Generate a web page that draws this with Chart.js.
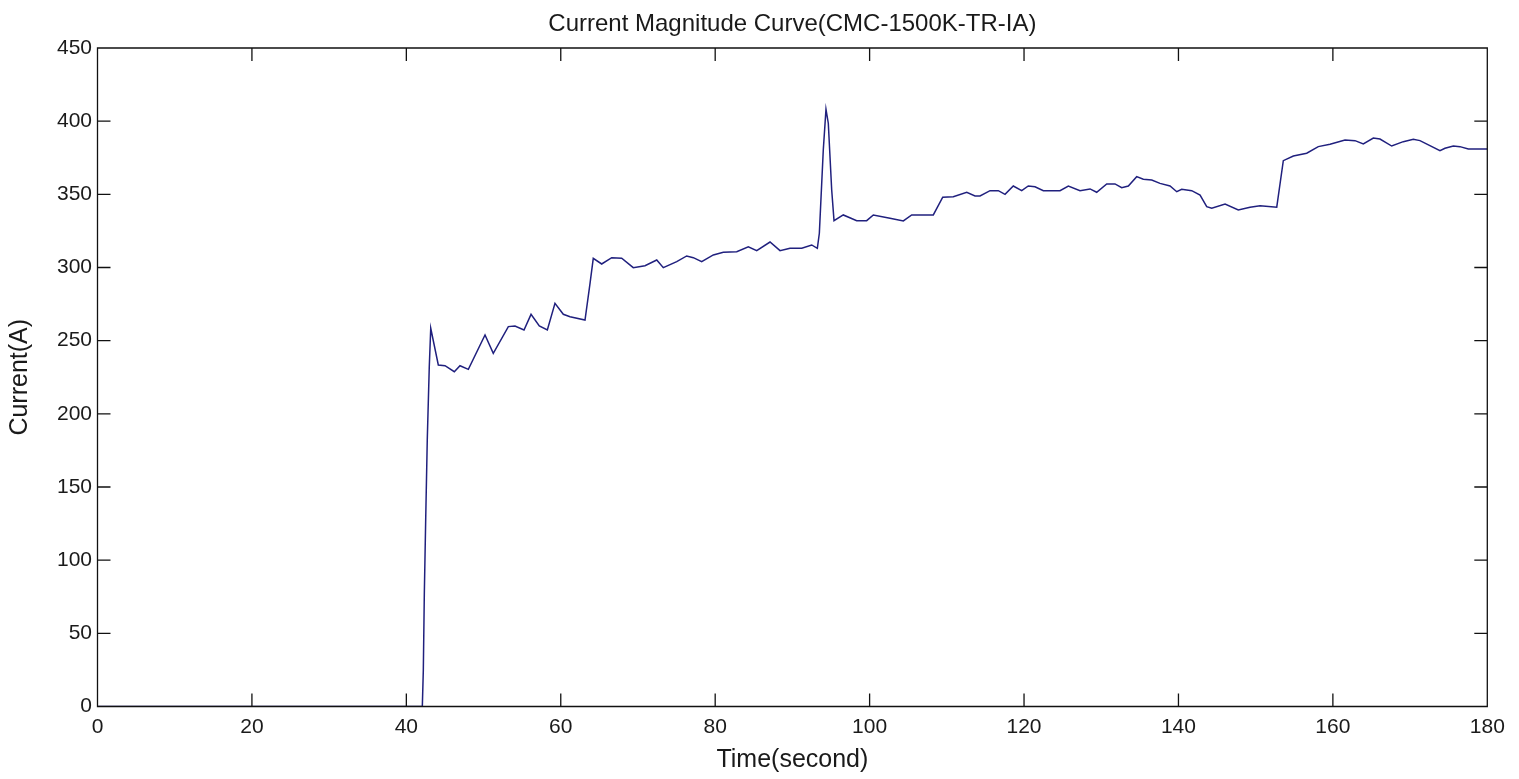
<!DOCTYPE html>
<html>
<head>
<meta charset="utf-8">
<script src="https://cdn.jsdelivr.net/npm/chart.js@4.4.1/dist/chart.umd.min.js"></script>
<style>
  html, body { margin: 0; padding: 0; background: #ffffff; }
  #wrap { width: 1519px; height: 779px; }
</style>
</head>
<body>
<div id="wrap"><canvas id="c"></canvas></div>
<script>
const chartTitle = "Current Magnitude Curve(CMC-1500K-TR-IA)";
const xAxisTitle = "Time(second)";
const yAxisTitle = "Current(A)";

const xTickValues = [0, 20, 40, 60, 80, 100, 120, 140, 160, 180];
const yTickValues = [0, 50, 100, 150, 200, 250, 300, 350, 400, 450];

const times = [
  0, 42.07, 42.20, 42.33, 42.51, 42.71, 42.97, 43.16, 44.14, 45.01,
  46.21, 46.95, 48.03, 50.19, 51.26, 53.21, 54.07, 55.24, 56.15, 57.22,
  58.26, 59.25, 60.33, 61.20, 63.14, 63.79, 64.21, 65.30, 66.60, 67.89,
  69.39, 70.91, 72.43, 73.28, 75.02, 76.31, 77.17, 78.25, 79.76, 81.05,
  82.79, 84.29, 85.38, 87.10, 88.40, 89.69, 91.21, 92.50, 93.23, 93.49,
  94.00, 94.35, 94.65, 95.09, 95.39, 96.59, 98.33, 99.62, 100.48, 102.64,
  104.37, 105.45, 108.25, 109.47, 110.84, 112.58, 113.65, 114.30, 115.60, 116.67,
  117.54, 118.61, 119.70, 120.55, 121.42, 122.50, 124.66, 125.74, 127.25, 128.55,
  129.41, 130.71, 131.78, 132.65, 133.51, 134.59, 135.45, 136.54, 137.61, 138.91,
  139.78, 140.42, 141.72, 142.80, 143.66, 144.31, 146.04, 147.75, 149.27, 150.57,
  152.73, 153.58, 154.88, 156.61, 158.11, 159.63, 161.57, 162.87, 163.94, 165.24,
  166.10, 167.62, 169.12, 170.42, 171.28, 173.87, 174.52, 175.60, 176.46, 177.54,
  180
];

const currents = [
  0, 0, 24.9, 77.6, 128.8, 182.1, 232.2, 258.5, 233.4, 232.9,
  228.8, 232.9, 230.4, 253.9, 241.4, 259.6, 260.0, 257.3, 268.0, 260.0,
  257.3, 275.5, 268.0, 266.4, 264.1, 289.2, 306.3, 302.4, 306.7, 306.3,
  299.9, 301.2, 305.1, 299.9, 304.0, 307.9, 306.7, 304.0, 308.6, 310.4,
  310.8, 314.2, 311.5, 317.4, 311.5, 313.1, 313.1, 315.4, 313.1, 323.4,
  380.3, 408.1, 398.6, 353.0, 332.0, 335.9, 332.0, 332.0, 335.9, 333.6,
  331.8, 335.9, 335.9, 348.0, 348.4, 351.4, 348.9, 348.9, 352.5, 352.5,
  350.0, 355.7, 352.5, 355.7, 355.2, 352.5, 352.5, 355.7, 352.5, 353.7,
  351.4, 357.1, 357.1, 354.5, 355.7, 362.1, 360.3, 359.8, 357.5, 355.7,
  351.8, 353.4, 352.5, 349.5, 341.6, 340.5, 343.4, 339.3, 341.2, 342.2,
  341.2, 373.0, 376.2, 378.1, 382.6, 384.2, 387.1, 386.7, 384.4, 388.5,
  387.8, 383.0, 386.0, 387.6, 386.7, 379.8, 381.5, 383.0, 382.6, 381.0,
  381.0
];

const points = times.map((t, i) => ({ x: t, y: currents[i] }));

const TEXT_FONT = "'Liberation Sans', Arial, sans-serif";
const TEXT_COLOR = '#1a1a1a';

const framePlugin = {
  id: 'matlabFrame',
  afterDatasetsDraw(chart) {
    const { ctx, chartArea: { left, right, top, bottom }, scales: { x, y } } = chart;
    const L = 13;
    ctx.save();
    ctx.strokeStyle = '#111111';
    ctx.lineWidth = 1.3;
    ctx.beginPath();
    ctx.rect(left, top, right - left, bottom - top);
    x.ticks.forEach(t => {
      const px = x.getPixelForValue(t.value);
      ctx.moveTo(px, bottom); ctx.lineTo(px, bottom - L);
      ctx.moveTo(px, top); ctx.lineTo(px, top + L);
    });
    y.ticks.forEach(t => {
      const py = y.getPixelForValue(t.value);
      ctx.moveTo(left, py); ctx.lineTo(left + L, py);
      ctx.moveTo(right, py); ctx.lineTo(right - L, py);
    });
    ctx.stroke();
    ctx.restore();
  }
};

new Chart(document.getElementById('c'), {
  type: 'scatter',
  data: {
    datasets: [{
      data: points,
      showLine: true,
      borderColor: '#20207e',
      borderWidth: 1.5,
      pointRadius: 0,
      pointHoverRadius: 0,
      tension: 0,
      fill: false
    }]
  },
  options: {
    responsive: true,
    maintainAspectRatio: false,
    animation: false,
    devicePixelRatio: 1,
    layout: { padding: { left: 0, right: 31.7, top: 0, bottom: 0 } },
    plugins: {
      legend: { display: false },
      tooltip: { enabled: false },
      title: {
        display: true,
        fullSize: false,
        text: chartTitle,
        color: TEXT_COLOR,
        font: { family: TEXT_FONT, size: 24, weight: 'normal', lineHeight: 1.2 },
        padding: { top: 9.6, bottom: 9.6 }
      }
    },
    scales: {
      x: {
        type: 'linear',
        min: 0,
        max: 180,
        afterBuildTicks: (s) => { s.ticks = xTickValues.map(v => ({ value: v })); },
        afterFit: (s) => { s.height = 72.5; },
        grid: { display: false, drawTicks: false },
        border: { display: false },
        ticks: {
          color: TEXT_COLOR,
          padding: 8,
          maxRotation: 0,
          autoSkip: false,
          font: { family: TEXT_FONT, size: 21, lineHeight: 1.2 }
        },
        title: {
          display: true,
          text: xAxisTitle,
          color: TEXT_COLOR,
          font: { family: TEXT_FONT, size: 25, lineHeight: 1.2 },
          padding: { top: 0, bottom: 4 }
        }
      },
      y: {
        type: 'linear',
        min: 0,
        max: 450,
        afterBuildTicks: (s) => { s.ticks = yTickValues.map(v => ({ value: v })); },
        afterFit: (s) => { s.width = 97.5; },
        grid: { display: false, drawTicks: false },
        border: { display: false },
        ticks: {
          color: TEXT_COLOR,
          padding: 5.5,
          autoSkip: false,
          font: { family: TEXT_FONT, size: 21, lineHeight: 1.2 }
        },
        title: {
          display: true,
          text: yAxisTitle,
          color: TEXT_COLOR,
          font: { family: TEXT_FONT, size: 25, lineHeight: 1.2 },
          padding: { top: 5, bottom: 0 }
        }
      }
    }
  },
  plugins: [framePlugin]
});
</script>
</body>
</html>
